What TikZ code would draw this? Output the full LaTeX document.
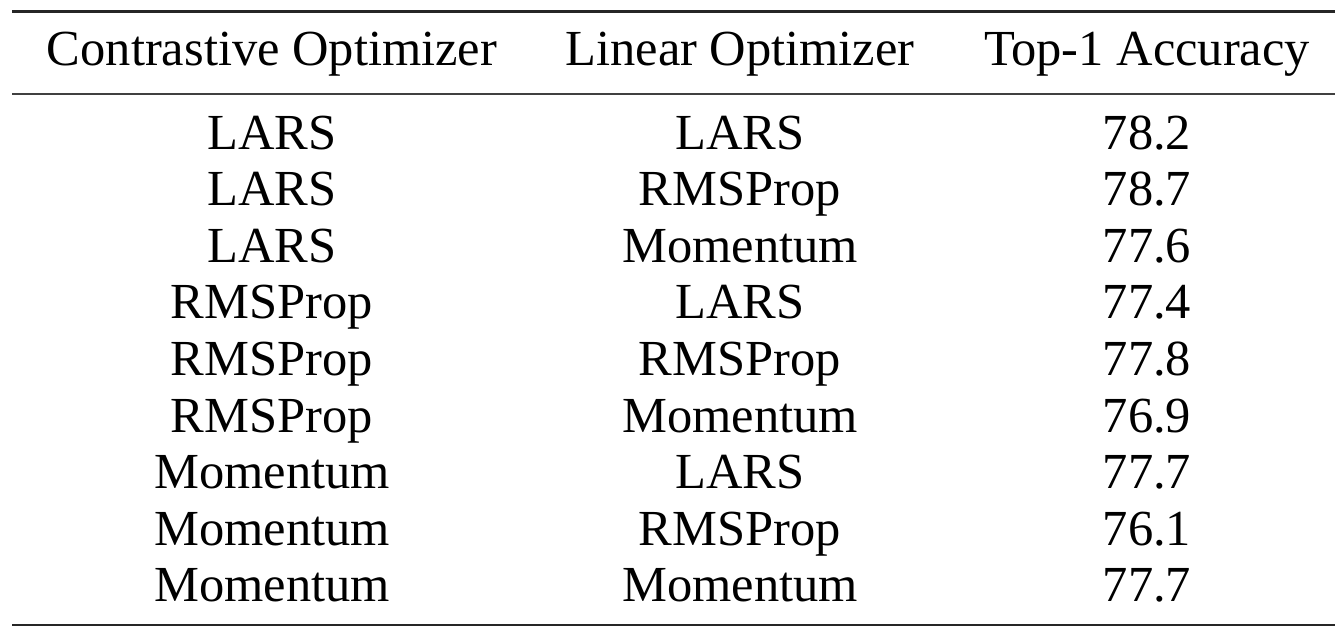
\documentclass[tikz,border=0pt]{standalone}
\usepackage{fontspec}
\setmainfont{Liberation Serif}
\begin{document}
\begin{tikzpicture}[x=1pt,y=-1pt,
  cell/.style={anchor=base,inner sep=0pt,font=\fontsize{50.5}{56}\selectfont},
  heavyrule/.style={line width=3pt,color=black!85},
  lightrule/.style={line width=2pt,color=black!75}]
\useasboundingbox (0,0) rectangle (1335,626);
% booktabs-style rules
\coordinate (tl) at (12,12);   \coordinate (tr) at (1340,12);
\coordinate (ml) at (12,94);   \coordinate (mr) at (1340,94);
\coordinate (bl) at (12,625);  \coordinate (br) at (1340,625);
\draw[heavyrule] (tl) -- (tr);
\draw[lightrule] (ml) -- (mr);
\draw[heavyrule] (bl) -- (br);
% header
\node[cell] (h1) at (272,66) {Contrastive Optimizer};
\node[cell] (h2) at (740,66) {Linear Optimizer};
\node[cell] (h3) at (1147,66) {Top-1 Accuracy};
% body rows
\foreach \a/\b/\c [count=\i] in {
  LARS/LARS/78.2,
  LARS/RMSProp/78.7,
  LARS/Momentum/77.6,
  RMSProp/LARS/77.4,
  RMSProp/RMSProp/77.8,
  RMSProp/Momentum/76.9,
  Momentum/LARS/77.7,
  Momentum/RMSProp/76.1,
  Momentum/Momentum/77.7}{
  \pgfmathsetmacro{\yy}{149+56.6*(\i-1)}
  \node[cell] (c1r\i) at (272,\yy) {\a};
  \node[cell] (c2r\i) at (740,\yy) {\b};
  \node[cell] (c3r\i) at (1147,\yy) {\c};
}
\end{tikzpicture}
\end{document}
